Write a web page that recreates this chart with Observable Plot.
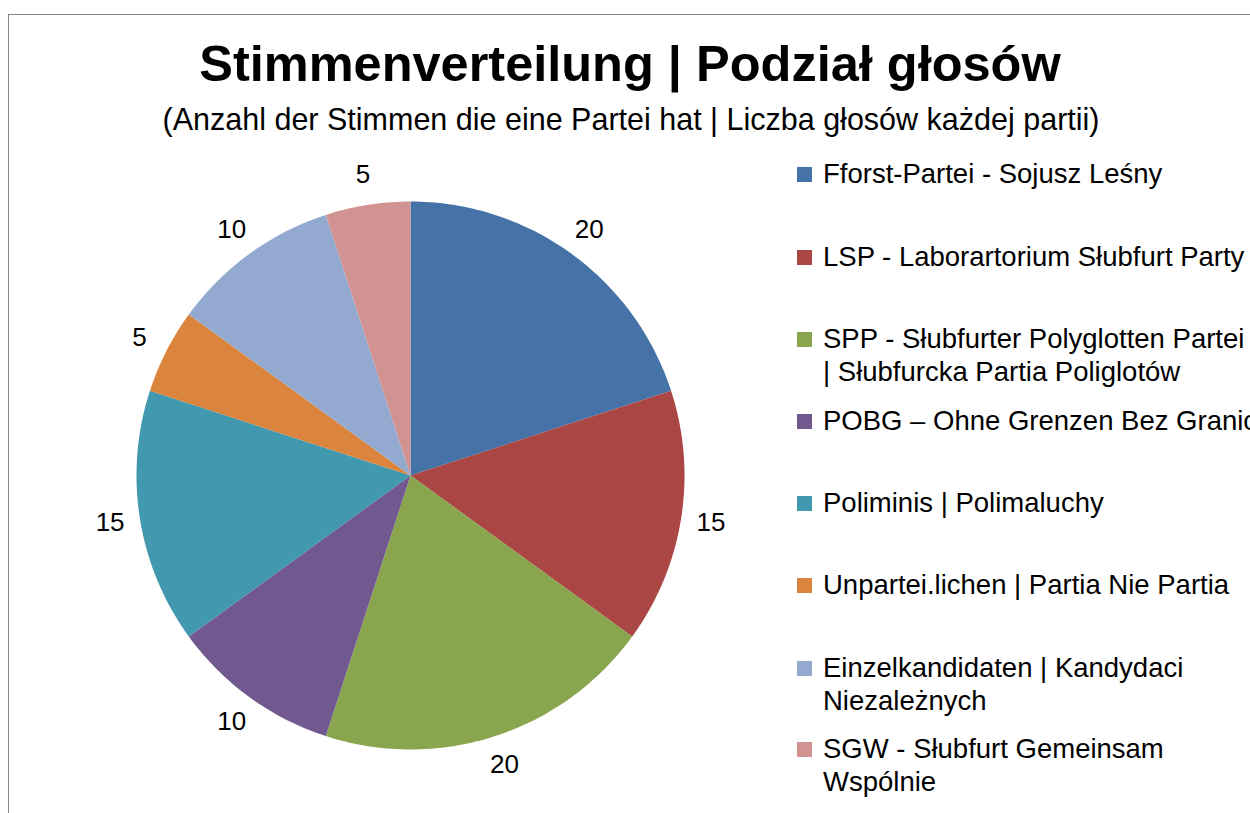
<!DOCTYPE html>
<html><head><meta charset="utf-8">
<script src="https://cdn.jsdelivr.net/npm/d3@7"></script>
<script src="https://cdn.jsdelivr.net/npm/@observablehq/plot@0.6"></script>
<style>
html,body{margin:0;padding:0;background:#fff;overflow:hidden;width:1250px;height:813px;font-family:"Liberation Sans",Arial,sans-serif;color:#000;}
#frame{position:absolute;left:8px;top:14px;width:1400px;height:900px;border:1px solid #868686;box-sizing:border-box;}
#title{position:absolute;left:0;width:1260px;top:36px;text-align:center;font-weight:bold;font-size:50.5px;line-height:56px;white-space:nowrap;}
#subtitle{position:absolute;left:0;width:1262px;top:102px;text-align:center;font-size:30.5px;line-height:34px;white-space:nowrap;}
#chart{position:absolute;left:0;top:150px;}
#legend{position:absolute;left:797px;top:0;}
.item{position:absolute;left:0;width:480px;}
.sw{position:absolute;left:0;width:15px;height:15px;}
.lt{position:absolute;left:26px;width:435px;font-size:27.5px;line-height:33px;}
</style>
</head><body>
<div id="frame"></div>
<div id="title"></div>
<div id="subtitle"></div>
<div id="chart"></div>
<div id="legend"></div>
<script>
const titleText = "Stimmenverteilung | Podział głosów";
const subtitleText = "(Anzahl der Stimmen die eine Partei hat | Liczba głosów każdej partii)";
const parties = [
  "Fforst-Partei - Sojusz Leśny",
  "LSP - Laborartorium Słubfurt Party",
  "SPP - Słubfurter Polyglotten Partei | Słubfurcka Partia Poliglotów",
  "POBG – Ohne Grenzen Bez Granic",
  "Poliminis | Polimaluchy",
  "Unpartei.lichen | Partia Nie Partia",
  "Einzelkandidaten | Kandydaci Niezależnych",
  "SGW - Słubfurt Gemeinsam Wspólnie"
];
const votes = [20, 15, 20, 10, 15, 5, 10, 5];
const colors = ["#4572A7", "#AA4643", "#89A54E", "#71588F", "#4198AF", "#DB843D", "#93A9CF", "#D19392"];

document.getElementById("title").textContent = titleText;
document.getElementById("subtitle").textContent = subtitleText;

// pie layout (clockwise from top, original order)
const arcs = d3.pie().sort(null).value(d => d)(votes);
const sliceRows = [];
arcs.forEach((a, i) => {
  sliceRows.push({party: parties[i], x: 0, y: 0});
  const n = Math.max(2, Math.ceil((a.endAngle - a.startAngle) / (Math.PI / 180)));
  for (let k = 0; k <= n; k++) {
    const t = a.startAngle + (a.endAngle - a.startAngle) * k / n;
    sliceRows.push({party: parties[i], x: Math.sin(t), y: Math.cos(t)});
  }
});
const labelR = 1.11;
const labels = arcs.map((a, i) => {
  const m = (a.startAngle + a.endAngle) / 2;
  return {party: parties[i], value: votes[i], x: labelR * Math.sin(m), y: labelR * Math.cos(m)};
});

const plot = Plot.plot({
  width: 780,
  height: 663,
  marginLeft: 136,
  marginRight: 96,
  marginTop: 51,
  marginBottom: 64,
  x: {domain: [-1, 1], axis: null},
  y: {domain: [-1, 1], axis: null},
  color: {domain: parties, range: colors},
  style: {fontFamily: "'Liberation Sans', Arial, sans-serif", background: "transparent", overflow: "visible"},
  marks: [
    Plot.line(sliceRows, {x: "x", y: "y", z: "party", fill: "party", stroke: "none", curve: "linear-closed"}),
    Plot.text(labels, {x: "x", y: "y", text: d => String(d.value), fontSize: 26, fill: "#000", textAnchor: "middle", lineAnchor: "middle"})
  ]
});
document.getElementById("chart").appendChild(plot);

// legend
const legendCenters = [173, 256, 338, 420, 502, 584, 667, 748];
const legend = document.getElementById("legend");
parties.forEach((p, i) => {
  const item = document.createElement("div");
  item.className = "item";
  item.style.top = (legendCenters[i] - 16.5) + "px";
  const sw = document.createElement("div");
  sw.className = "sw";
  sw.style.top = "10px";
  sw.style.background = colors[i];
  const lt = document.createElement("div");
  lt.className = "lt";
  lt.textContent = p;
  item.appendChild(sw);
  item.appendChild(lt);
  legend.appendChild(item);
});
</script>
</body></html>
